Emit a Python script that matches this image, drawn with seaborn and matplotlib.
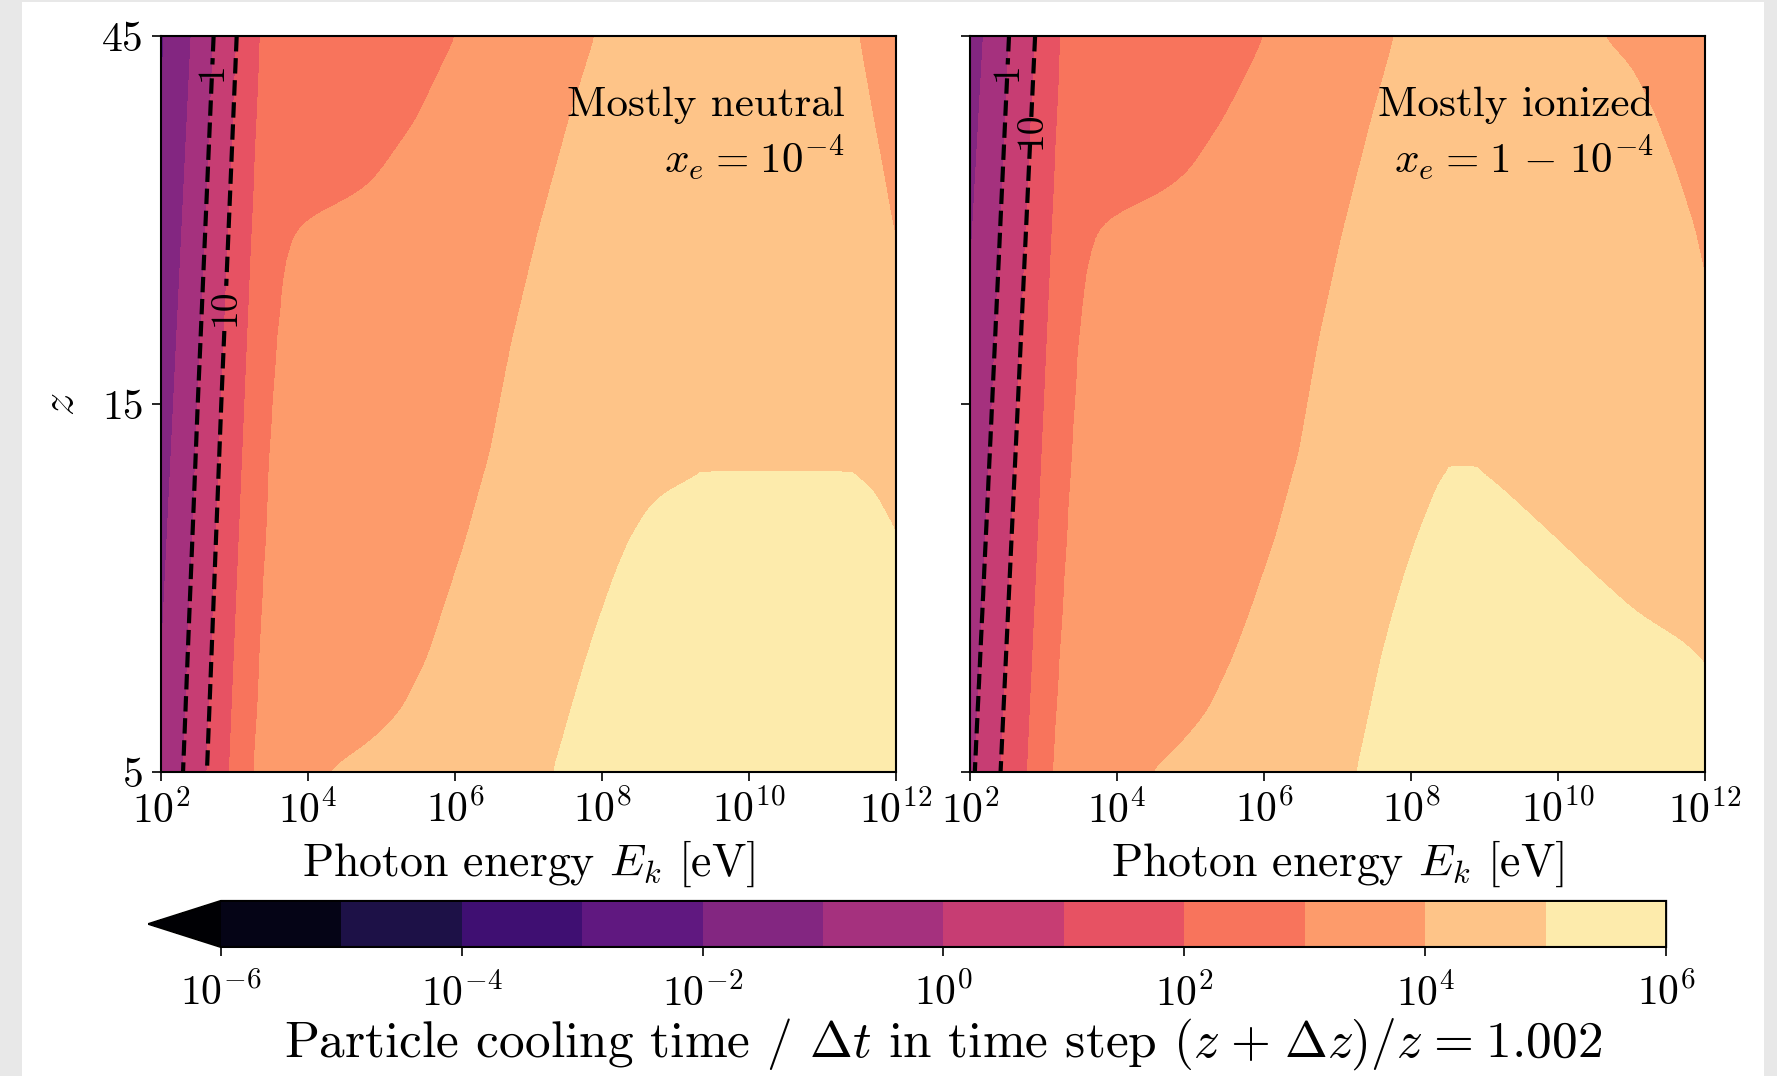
import numpy as np
import matplotlib
matplotlib.use("Agg")
import matplotlib.pyplot as plt
from matplotlib.colors import LogNorm
from matplotlib.ticker import NullLocator
from matplotlib.patches import Rectangle
import seaborn as sns

# ---------------- data (log10 of photon energy in eV at each contour boundary) ----------------
# straight boundaries, read at z = 5, 15, 45
z_lin = [5, 15, 45]
# ---- mostly neutral panel ----
n_lvl_m2 = [1.60, 1.82, 2.04]   # 1e-2
n_lvl_m1 = [1.93, 2.17, 2.41]   # 1e-1
n_lvl_0 = [2.30, 2.50, 2.716]   # 1
n_lvl_1 = [2.625, 2.82, 3.03]   # 10
n_lvl_2 = [2.93, 3.14, 3.35]    # 1e2
n_z3 = [5, 6, 8, 10, 13, 18, 22.4, 24.4, 25.5, 26.4, 27.6, 28.6, 30, 35, 40, 45]
n_lvl_3 = [3.26, 3.31, 3.37, 3.43, 3.48, 3.58, 3.68, 3.78, 3.875, 4.07, 4.53, 4.79,
           4.98, 5.47, 5.76, 6.02]
n_z4 = [5, 5.5, 6, 7, 8, 10, 13, 18, 25, 35, 45]
n_lvl_4 = [4.25, 4.88, 5.27, 5.62, 5.82, 6.15, 6.48, 6.77, 7.13, 7.55, 7.91]
n_z5l = [5, 5.5, 6, 7, 8, 9, 10, 11, 11.5, 12, 12.25]
n_lvl_5l = [7.33, 7.46, 7.57, 7.78, 7.98, 8.17, 8.37, 8.63, 8.82, 9.21, 9.47]
n_z5r = [5, 9, 10.2, 10.5, 11, 11.5, 12, 12.25]
n_lvl_5r = [12.6, 12.3, 12.0, 11.95, 11.82, 11.72, 11.56, 11.30]
n_z4r = [5, 20, 24.4, 26.4, 30.2, 35.6, 45]
n_lvl_4r = [13.0, 12.25, 12.0, 11.93, 11.82, 11.68, 11.49]
n_peak_logE = 10.4
n_peak_z = 12.25
# ---- mostly ionized panel ----
i_lvl_m2 = [1.30, 1.60, 1.93]
i_lvl_m1 = [1.62, 1.90, 2.18]
i_lvl_0 = [2.065, 2.30, 2.53]
i_lvl_1 = [2.415, 2.65, 2.885]
i_lvl_2 = [2.78, 3.01, 3.235]
i_z3 = [5, 6, 8, 10, 13, 18, 22, 24, 25, 26, 26.5, 27, 27.5, 28, 30, 35, 40, 45]
i_lvl_3 = [3.13, 3.18, 3.26, 3.32, 3.39, 3.48, 3.58, 3.67, 3.73, 3.86, 4.01, 4.17, 4.36,
           4.59, 4.98, 5.44, 5.76, 6.01]
i_z4 = [5, 5.5, 6, 7, 8, 10, 13, 18, 25, 35, 45]
i_lvl_4 = [4.46, 4.92, 5.24, 5.57, 5.80, 6.15, 6.48, 6.74, 7.07, 7.46, 7.78]
i_z5l = [5, 6, 7, 8, 9, 10, 11, 12, 12.25, 12.45]
i_lvl_5l = [7.26, 7.44, 7.59, 7.75, 7.91, 8.07, 8.24, 8.40, 8.49, 8.58]
i_z5r = [5, 6, 6.9, 7.4, 8, 9, 10, 11, 12, 12.25, 12.45]
i_lvl_5r = [12.9, 12.4, 12.02, 11.7, 11.1, 10.5, 9.99, 9.52, 9.08, 8.94, 8.80]
i_z4r = [5, 18, 22, 25.5, 30.2, 35.7, 41, 45]
i_lvl_4r = [13.2, 12.3, 12.0, 11.85, 11.6, 11.31, 11.0, 10.6]
i_peak_logE = 8.69
i_peak_z = 12.45

cbar_levels = [1e-6, 1e-5, 1e-4, 1e-3, 1e-2, 1e-1, 1e0, 1e1, 1e2, 1e3, 1e4, 1e5, 1e6]
cbar_ticks = [1e-6, 1e-4, 1e-2, 1e0, 1e2, 1e4, 1e6]
x_ticks = [1e2, 1e4, 1e6, 1e8, 1e10, 1e12]
y_ticks = [5, 15, 45]
y_ticklabels = ["5", "15", "45"]
line_levels = [1, 10]
panel_texts = [r"Mostly neutral" + "\n" + r"$x_e \hspace{0.08}=\hspace{0.08} 10^{-4}$",
               r"Mostly ionized" + "\n"
               + r"$x_e \hspace{0.08}=\hspace{0.08} 1 \hspace{0.12}-\hspace{0.12} 10^{-4}$"]


def smooth(v, sigma=7):
    r = int(3 * sigma)
    k = np.exp(-0.5 * (np.arange(-r, r + 1) / sigma) ** 2)
    k /= k.sum()
    return np.convolve(np.pad(v, r, mode="edge"), k, mode="valid")


def curve(zs, vals, zg, sm=True):
    c = np.interp(np.log10(zg), np.log10(zs), vals)
    return smooth(c) if sm else c


def build_field(logE, zg, lin, b3, b4, b5l, b5r, b4r, peak_logE, peak_z):
    lin_c = [curve(z_lin, b, zg, sm=False) for b in lin]
    c3, c4 = curve(*b3, zg), curve(*b4, zg)
    c5l, c5r, c4r = curve(*b5l, zg), curve(*b5r, zg), curve(*b4r, zg)
    F = np.empty((zg.size, logE.size))
    for i, zq in enumerate(zg):
        xs = [c[i] for c in lin_c]
        xs = [xs[0] - 0.35] + xs + [c3[i], c4[i]]
        vs = [-3, -2, -1, 0, 1, 2, 3, 4]
        if zq <= peak_z:
            xs += [c5l[i], peak_logE, c5r[i]]
            vs += [5, 5.5, 5]
        else:
            xs += [peak_logE]
            vs += [4.6]
        xs += [c4r[i], c4r[i] + 3.0]
        vs += [4, 3]
        xs = np.array(xs)
        for j in range(1, xs.size):
            if xs[j] <= xs[j - 1]:
                xs[j] = xs[j - 1] + 1e-6
        F[i] = np.interp(logE, xs, vs)
    return 10.0 ** F


logE = np.linspace(2, 12, 900)
zg = np.geomspace(5, 45, 600)
E = 10 ** logE

T_neutral = build_field(logE, zg,
                        [n_lvl_m2, n_lvl_m1, n_lvl_0, n_lvl_1, n_lvl_2],
                        (n_z3, n_lvl_3), (n_z4, n_lvl_4), (n_z5l, n_lvl_5l),
                        (n_z5r, n_lvl_5r), (n_z4r, n_lvl_4r), n_peak_logE, n_peak_z)
T_ionized = build_field(logE, zg,
                        [i_lvl_m2, i_lvl_m1, i_lvl_0, i_lvl_1, i_lvl_2],
                        (i_z3, i_lvl_3), (i_z4, i_lvl_4), (i_z5l, i_lvl_5l),
                        (i_z5r, i_lvl_5r), (i_z4r, i_lvl_4r), i_peak_logE, i_peak_z)

# ---------------- style ----------------
sns.set_theme(style="ticks")
plt.rcParams.update({
    "font.family": ["cmr10"],
    "mathtext.fontset": "cm",
    "axes.unicode_minus": False,
    "axes.formatter.use_mathtext": True,
    "axes.linewidth": 1.5,
    "axes.edgecolor": "black",
    "axes.labelcolor": "black",
    "text.color": "black",
    "xtick.color": "black",
    "ytick.color": "black",
    "xtick.major.size": 6.5,
    "ytick.major.size": 6.5,
    "xtick.major.width": 1.2,
    "ytick.major.width": 1.2,
})

cmap = sns.color_palette("magma", as_cmap=True)
norm = LogNorm(vmin=1e-6, vmax=1e6)

fig = plt.figure(figsize=(17.77, 10.76), dpi=100)
fig.add_artist(Rectangle((0, 0), 22 / 1777, 1, transform=fig.transFigure,
                         facecolor="#e8e8e8", edgecolor="none", zorder=-5))
fig.add_artist(Rectangle((1764 / 1777, 0), 13 / 1777, 1, transform=fig.transFigure,
                         facecolor="#e8e8e8", edgecolor="none", zorder=-5))
fig.add_artist(Rectangle((0, 1 - 2 / 1076), 1, 2 / 1076, transform=fig.transFigure,
                         facecolor="#e8e8e8", edgecolor="none", zorder=-5))

ax1 = fig.add_axes([0.0906, 0.2825, 0.4136, 0.6840])
ax2 = fig.add_axes([0.5459, 0.2825, 0.4136, 0.6840])

label_pos = [
    [(10 ** 2.70, 40.5), (10 ** 2.84, 20.0)],
    [(10 ** 2.52, 40.5), (10 ** 2.80, 34.0)],
]

cf = None
for k, (ax, T, txt) in enumerate(zip([ax1, ax2], [T_neutral, T_ionized], panel_texts)):
    cf = ax.contourf(E, zg, T, levels=cbar_levels, cmap=cmap, norm=norm, extend="min")
    cl = ax.contour(E, zg, T, levels=line_levels, colors="black",
                    linestyles="--", linewidths=3.0)
    ax.clabel(cl, fmt=lambda v: f"{v:g}", fontsize=27, inline=True,
              manual=label_pos[k], inline_spacing=6)
    ax.set_xscale("log")
    ax.set_yscale("log")
    ax.set_xlim(1e2, 1e12)
    ax.set_ylim(5, 45)
    ax.set_xticks(x_ticks)
    ax.xaxis.set_minor_locator(NullLocator())
    ax.set_yticks(y_ticks)
    ax.yaxis.set_minor_locator(NullLocator())
    ax.tick_params(labelsize=30, pad=6)
    ax.set_xlabel("Photon energy $E_k$ [eV]", fontsize=33, labelpad=6)
    ax.text(0.93, 0.932, txt, transform=ax.transAxes, ha="right", va="top",
            fontsize=31, linespacing=1.25)
    for s in ax.spines.values():
        s.set_visible(True)

ax1.set_yticklabels(y_ticklabels)
ax2.set_yticklabels([])
ax1.set_ylabel("$z$", fontsize=33, labelpad=14)

cax = fig.add_axes([0.0836, 0.1199, 0.854, 0.0428])
cb = fig.colorbar(cf, cax=cax, orientation="horizontal", ticks=cbar_ticks)
cb.ax.xaxis.set_minor_locator(NullLocator())
cb.ax.tick_params(labelsize=30, length=6.5, width=1.2, pad=12)
cb.outline.set_linewidth(1.5)
cb.set_label(r"Particle cooling time / $\Delta t$ in time step "
             r"$(z \hspace{0.1}+\hspace{0.1} \Delta z)/z \hspace{0.08}=\hspace{0.08} 1.002$",
             fontsize=37, labelpad=2)

fig.savefig("out.png", dpi=100, facecolor="white")
